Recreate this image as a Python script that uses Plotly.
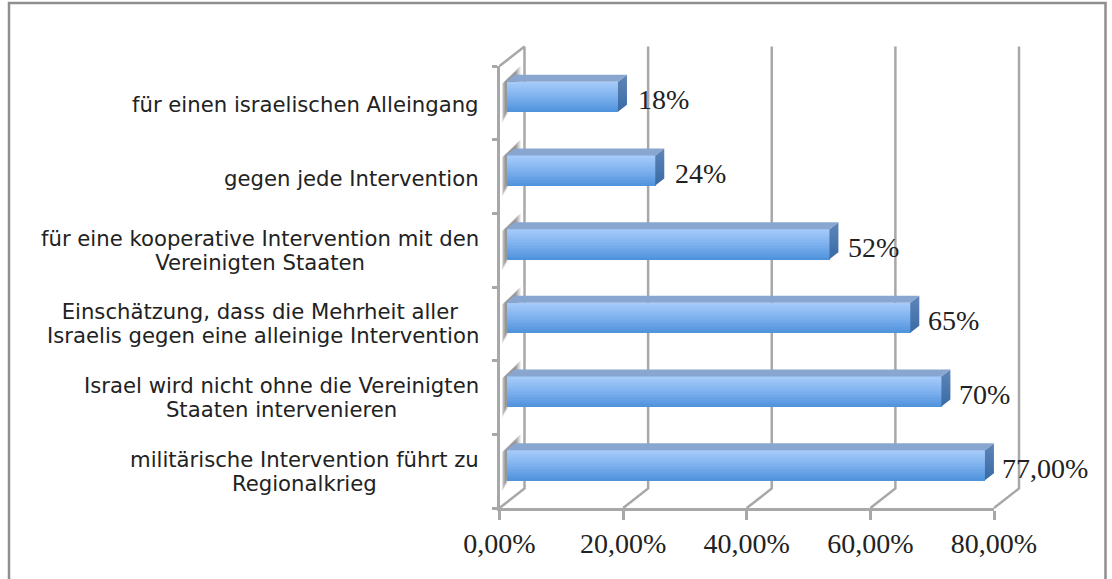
import plotly.graph_objects as go

categories = [
    "militärische Intervention führt zu<br>Regionalkrieg",
    "Israel wird nicht ohne die Vereinigten<br>Staaten intervenieren",
    "Einschätzung, dass die Mehrheit aller <br>Israelis gegen eine alleinige Intervention",
    "für eine kooperative Intervention mit den<br>Vereinigten Staaten",
    "gegen jede Intervention",
    "für einen israelischen Alleingang",
]
values = [77, 70, 65, 52, 24, 18]
value_labels = ["77,00%", "70%", "65%", "52%", "24%", "18%"]
x_ticks = [0, 20, 40, 60, 80]
x_tick_labels = ["0,00%", "20,00%", "40,00%", "60,00%", "80,00%"]

W, H = 1112, 579
X0, X80, Y_TOP, Y_BOT = 499.5, 994.0, 66.0, 508.0
PX_X = (X80 - X0) / 80
PX_Y = (Y_BOT - Y_TOP) / 6
BAR_X0, BAR_PX = 506.0, 6.22
GRID = "#a8a8a8"
SANS = "DejaVu Sans"
SERIF = "Liberation Serif"
INK = "#222222"
BASE = dict(hoverinfo="skip", showlegend=False)

x3_range = [(X0 - BAR_X0) / BAR_PX, (X80 - BAR_X0) / BAR_PX]
DEPTH_X, DEPTH_Y = 25 / PX_X, 19.5 / PX_Y       # wall depth in axis units
BAR_DX, BAR_DY = 9 / BAR_PX, 7 / PX_Y           # bar depth in axis units
BAR_H = 30 / PX_Y
BAR_SHIFT = 6 / PX_Y

fig = go.Figure()

# Floor / wall lines of the 3-D box (full-page hidden axes with the same scale)
gx, gy = [], []
for t in x_ticks[1:]:
    gx += [t, t + DEPTH_X, t + DEPTH_X, None]
    gy += [0, DEPTH_Y, 6 + DEPTH_Y, None]
gx += [0, DEPTH_X, DEPTH_X, None, 0, DEPTH_X]
gy += [0, DEPTH_Y, 6 + DEPTH_Y, None, 6, 6 + DEPTH_Y]
fig.add_trace(go.Scatter(x=gx, y=gy, mode="lines", line=dict(color=GRID, width=2.5), **BASE))

centers = [i + 0.5 + BAR_SHIFT for i in range(len(values))]

# Soft shadow cast on the side wall, fading outward (offsets in px from the wall and the bar top)
LAYERS = [
    ("rgba(140,140,140,0.30)", [(2.5, 41), (2.5, 2), (21, -16), (21, 2), (7, 34)]),
    ("rgba(120,120,120,0.35)", [(3.5, 38), (3.5, 1), (19, -14), (19, 2), (7, 32)]),
    ("rgba(100,100,100,0.40)", [(5, 35), (5, 0), (17, -11), (17, 2), (7, 30)]),
]
for col, poly in LAYERS:
    for c in centers:
        top = c + BAR_H / 2
        pts = poly + poly[:1]
        fig.add_trace(go.Scatter(x=[dx / PX_X for dx, dy in pts], y=[top - dy / PX_Y for dx, dy in pts],
                                 mode="lines", line=dict(width=0), fill="toself", fillcolor=col, **BASE))

# Empty trace keeps the visible axes' subplot alive
fig.add_trace(go.Scatter(x=[0], y=[0], xaxis="x2", yaxis="y2", mode="markers",
                         marker=dict(opacity=0), **BASE))

# Bar front face: stacked strips give the vertical gradient
STOPS = [(0.0, (77, 145, 219)), (0.5, (124, 176, 238)), (1.0, (166, 203, 250))]
def shade(t):
    for (a, ca), (b, cb) in zip(STOPS, STOPS[1:]):
        if t <= b:
            f = (t - a) / (b - a)
            return "rgb(%d,%d,%d)" % tuple(round(p + (q - p) * f) for p, q in zip(ca, cb))
    return "rgb(166,203,250)"

N = 20
strip = BAR_H / N
for k in range(N):
    fig.add_trace(go.Bar(
        x=values,
        y=[c - BAR_H / 2 + strip * (k + 0.5) for c in centers],
        width=strip * 1.15, orientation="h", xaxis="x3", yaxis="y2",
        marker=dict(color=shade((k + 0.5) / N), line=dict(width=0)), **BASE))

# Top and side faces
tx, ty = [], []
for v, c in zip(values, centers):
    top, bot = c + BAR_H / 2, c - BAR_H / 2
    tx += [0, BAR_DX, v + BAR_DX, v, 0, None]
    ty += [top, top + BAR_DY, top + BAR_DY, top, top, None]
    fig.add_trace(go.Scatter(
        x=[v, v + BAR_DX, v + BAR_DX, v, v], y=[top, top + BAR_DY, bot + BAR_DY, bot, top],
        xaxis="x3", yaxis="y2", mode="lines", line=dict(width=0), fill="toself",
        fillgradient=dict(type="vertical", colorscale=[[0, "#386aa5"], [1, "#5f86b9"]]), **BASE))
fig.add_trace(go.Scatter(x=tx, y=ty, xaxis="x3", yaxis="y2", mode="lines", line=dict(width=0),
                         fill="toself", fillcolor="#88a6d0", **BASE))

annotations = []
for i, cat in enumerate(categories):
    # The outer font size sets the line spacing, the span sets the glyph size
    lines = cat.split("<br>")
    text = "<br>".join('<span style="font-size:21.2px">%s</span>' % line for line in lines)
    annotations.append(dict(text=text, xref="paper", yref="y2", x=480.5 / W, y=i + 0.5,
                            xanchor="right", yanchor="middle", align="center", showarrow=False,
                            yshift=-2 if len(lines) == 1 else 0,
                            font=dict(family=SANS, size=18.5, color=INK)))
for v, lab, c in zip(values, value_labels, centers):
    annotations.append(dict(text=lab, xref="x2", yref="y2", x=v, y=c, xanchor="left", yanchor="middle",
                            xshift=25, yshift=-3, showarrow=False,
                            font=dict(family=SERIF, size=28, color=INK)))

fig.update_layout(
    width=W, height=H, autosize=False, margin=dict(l=0, r=0, t=0, b=0),
    paper_bgcolor="white", plot_bgcolor="rgba(0,0,0,0)", barmode="overlay", bargap=0,
    showlegend=False, annotations=annotations,
    xaxis=dict(domain=[0, 1], range=[-X0 / PX_X, (W - X0) / PX_X], visible=False, automargin=False, anchor="y"),
    yaxis=dict(domain=[0, 1], range=[-(H - Y_BOT) / PX_Y, Y_BOT / PX_Y], visible=False, automargin=False, anchor="x"),
    xaxis2=dict(domain=[X0 / W, X80 / W], range=[0, 80], tickvals=x_ticks, ticktext=x_tick_labels,
                ticks="outside", ticklen=9, tickwidth=2.5, tickcolor=GRID, showgrid=False, zeroline=False,
                showline=True, linecolor=GRID, linewidth=2.5, anchor="y2", ticklabelstandoff=0,
                automargin=False, tickfont=dict(family=SERIF, size=28, color=INK)),
    xaxis3=dict(overlaying="x2", range=x3_range, visible=False, anchor="y2", automargin=False),
    yaxis2=dict(domain=[(H - Y_BOT) / H, (H - Y_TOP) / H], range=[0, 6], tickvals=list(range(7)),
                ticktext=[""] * 7, ticks="outside", ticklen=5, tickwidth=2.5, tickcolor=GRID,
                showgrid=False, zeroline=False, showline=True, linecolor=GRID, linewidth=2.5,
                automargin=False, anchor="x2"),
    shapes=[dict(type="rect", xref="paper", yref="paper", x0=9 / W, x1=1105.5 / W, y0=-0.05,
                 y1=(H - 3) / H, line=dict(color="#8f8f8f", width=2.5), layer="below")],
)

fig.write_html("out.html", config=dict(displayModeBar=False),
               post_script="document.body.style.margin='0';")
